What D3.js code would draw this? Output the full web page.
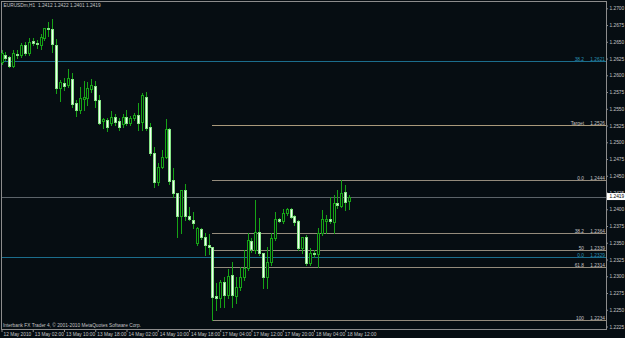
<!DOCTYPE html>
<html>
<head>
<meta charset="utf-8">
<script src="https://cdn.jsdelivr.net/npm/d3@7"></script>
<style>
  html, body { margin: 0; padding: 0; background: #060d12; overflow: hidden; }
  svg { display: block; }
</style>
</head>
<body>
<div id="container"></div>
<script>
const chartTitle = 'EURUSDm,H1  1.2412 1.2422 1.2401 1.2419';
const copyright = 'Interbank FX Trader 4, \u00a9 2001-2010 MetaQuotes Software Corp.';

// hourly bars, 12 May 18:00 .. 18 May 13:00
const open = [
  1.2620, 1.2630, 1.2627, 1.2614, 1.2632, 1.2630, 1.2645, 1.2633, 1.2651, 1.2648,
  1.2645, 1.2656, 1.2671, 1.2669, 1.2645, 1.2581, 1.2588, 1.2585, 1.2594, 1.2559,
  1.2548, 1.2565, 1.2566, 1.2580, 1.2584, 1.2563, 1.2532, 1.2533, 1.2529, 1.2538,
  1.2532, 1.2527, 1.2538, 1.2529, 1.2536, 1.2541, 1.2530, 1.2568, 1.2523, 1.2484,
  1.2441, 1.2463, 1.2478, 1.2520, 1.2443, 1.2424, 1.2390, 1.2429, 1.2390, 1.2384,
  1.2349, 1.2370, 1.2358, 1.2346, 1.2343, 1.2270, 1.2268, 1.2291, 1.2272, 1.2302,
  1.2271, 1.2284, 1.2299, 1.2312, 1.2352, 1.2339, 1.2366, 1.2335, 1.2299, 1.2321,
  1.2357, 1.2385, 1.2382, 1.2394, 1.2400, 1.2390, 1.2382, 1.2342, 1.2358, 1.2320,
  1.2335, 1.2333, 1.2364, 1.2382, 1.2385, 1.2381, 1.2409, 1.2405, 1.2426, 1.2412
];
const high = [
  1.2638, 1.2635, 1.2629, 1.2638, 1.2638, 1.2648, 1.2650, 1.2656, 1.2656, 1.2653,
  1.2662, 1.2671, 1.2680, 1.2684, 1.2654, 1.2593, 1.2596, 1.2609, 1.2603, 1.2563,
  1.2582, 1.2591, 1.2590, 1.2594, 1.2591, 1.2570, 1.2536, 1.2536, 1.2547, 1.2542,
  1.2536, 1.2542, 1.2548, 1.2539, 1.2544, 1.2559, 1.2573, 1.2575, 1.2529, 1.2493,
  1.2469, 1.2488, 1.2535, 1.2521, 1.2462, 1.2425, 1.2429, 1.2438, 1.2403, 1.2396,
  1.2373, 1.2372, 1.2364, 1.2363, 1.2343, 1.2290, 1.2294, 1.2299, 1.2311, 1.2321,
  1.2299, 1.2314, 1.2339, 1.2364, 1.2357, 1.2414, 1.2387, 1.2335, 1.2343, 1.2364,
  1.2396, 1.2387, 1.2400, 1.2402, 1.2402, 1.2391, 1.2384, 1.2358, 1.2361, 1.2342,
  1.2339, 1.2372, 1.2399, 1.2391, 1.2418, 1.2421, 1.2429, 1.2444, 1.2436, 1.2422
];
const low = [
  1.2617, 1.2623, 1.2613, 1.2613, 1.2626, 1.2627, 1.2630, 1.2630, 1.2645, 1.2641,
  1.2639, 1.2653, 1.2659, 1.2635, 1.2574, 1.2562, 1.2578, 1.2582, 1.2553, 1.2539,
  1.2544, 1.2548, 1.2556, 1.2575, 1.2553, 1.2527, 1.2521, 1.2517, 1.2526, 1.2526,
  1.2518, 1.2523, 1.2526, 1.2526, 1.2533, 1.2518, 1.2518, 1.2518, 1.2481, 1.2433,
  1.2436, 1.2462, 1.2476, 1.2438, 1.2418, 1.2358, 1.2364, 1.2384, 1.2384, 1.2372,
  1.2346, 1.2355, 1.2332, 1.2333, 1.2234, 1.2250, 1.2254, 1.2254, 1.2268, 1.2254,
  1.2260, 1.2279, 1.2294, 1.2309, 1.2336, 1.2335, 1.2332, 1.2282, 1.2282, 1.2317,
  1.2354, 1.2381, 1.2379, 1.2391, 1.2387, 1.2376, 1.2339, 1.2335, 1.2317, 1.2317,
  1.2329, 1.2314, 1.2361, 1.2364, 1.2379, 1.2364, 1.2402, 1.2403, 1.2399, 1.2401
];
const close = [
  1.2633, 1.2626, 1.2614, 1.2633, 1.2630, 1.2645, 1.2633, 1.2650, 1.2648, 1.2647,
  1.2657, 1.2671, 1.2669, 1.2647, 1.2581, 1.2590, 1.2584, 1.2596, 1.2557, 1.2548,
  1.2566, 1.2568, 1.2581, 1.2586, 1.2563, 1.2529, 1.2535, 1.2523, 1.2538, 1.2530,
  1.2523, 1.2538, 1.2529, 1.2536, 1.2541, 1.2529, 1.2570, 1.2521, 1.2484, 1.2441,
  1.2463, 1.2478, 1.2520, 1.2442, 1.2424, 1.2390, 1.2429, 1.2390, 1.2385, 1.2379,
  1.2372, 1.2358, 1.2346, 1.2343, 1.2269, 1.2268, 1.2291, 1.2272, 1.2300, 1.2272,
  1.2284, 1.2299, 1.2312, 1.2354, 1.2340, 1.2366, 1.2335, 1.2299, 1.2321, 1.2357,
  1.2385, 1.2382, 1.2394, 1.2400, 1.2388, 1.2381, 1.2342, 1.2358, 1.2320, 1.2335,
  1.2333, 1.2364, 1.2385, 1.2385, 1.2382, 1.2409, 1.2406, 1.2424, 1.2411, 1.2419
];

const timeTicks = [0, 8, 16, 24, 32, 40, 48, 56, 64, 72, 80, 88];
const timeLabels = ['12 May 2010', '13 May 02:00', '13 May 10:00', '13 May 18:00', '14 May 02:00',
  '14 May 10:00', '14 May 18:00', '17 May 04:00', '17 May 12:00', '17 May 20:00',
  '18 May 04:00', '18 May 12:00'];

const priceTicks = [1.2700, 1.2675, 1.2650, 1.2625, 1.2600, 1.2575, 1.2550, 1.2525, 1.2500, 1.2475,
  1.2450, 1.2425, 1.2400, 1.2375, 1.2350, 1.2325, 1.2300, 1.2275, 1.2250, 1.2225];

// fibonacci from the 17 May low to the 18 May high
const fibLevels = ['Target', '0.0', '38.2', '50', '61.8', '100'];
const fibPrices = [1.2526, 1.2444, 1.2364, 1.2339, 1.2314, 1.2234];
const fibStartBar = 54;

// older fibonacci, only two of its levels are in view
const blueLevels = ['38.2', '0.0'];
const bluePrices = [1.2621, 1.2329];

const bid = 1.2419;

// ---------------------------------------------------------------
const W = 625, H = 338;
const plotLeft = 1, plotRight = 606, plotTop = 1, plotBottom = 329;
const bg = '#060d12';
const font = '"Liberation Sans", Arial, sans-serif';
const fs = 4.8;
const textColor = '#c4c4c4';
const frameColor = '#8c8c8c';
const green = '#16a316';
const fibColor = '#948b7c';
const blue = '#1b6d8c';

const svg = d3.select('#container')
    .append('svg')
    .attr('width', W)
    .attr('height', H)
    .style('background', bg);

const y = d3.scaleLinear()
    .domain([1.2225, 1.2700])
    .range([326.5, 8.3]);

const x = d3.scalePoint()
    .domain(d3.range(open.length))
    .range([1.5, 1.5 + (open.length - 1) * 3.906]);

const py = p => Math.round(y(p)) + 0.5;

// frame
svg.append('rect')
    .attr('x', plotLeft + 0.5)
    .attr('y', plotTop + 0.5)
    .attr('width', plotRight - plotLeft)
    .attr('height', plotBottom - plotTop)
    .attr('fill', 'none')
    .attr('stroke', frameColor)
    .attr('stroke-width', 1);

// blue fibo lines, full width
svg.append('g')
    .selectAll('line')
    .data(bluePrices)
    .join('line')
    .attr('x1', plotLeft + 1)
    .attr('x2', plotRight)
    .attr('y1', d => py(d))
    .attr('y2', d => py(d))
    .attr('stroke', blue)
    .attr('stroke-width', 1);

svg.append('g')
    .selectAll('text')
    .data(bluePrices)
    .join('text')
    .attr('x', 584)
    .attr('y', d => py(d) - 1)
    .attr('text-anchor', 'end')
    .attr('font-size', fs)
    .attr('font-family', font)
    .attr('fill', '#2a93b8')
    .text((d, i) => blueLevels[i]);

svg.append('g')
    .selectAll('text')
    .data(bluePrices)
    .join('text')
    .attr('x', 605)
    .attr('y', d => py(d) - 1)
    .attr('text-anchor', 'end')
    .attr('font-size', fs)
    .attr('font-family', font)
    .attr('fill', '#2a93b8')
    .text(d => d.toFixed(4));

// bid line
svg.append('line')
    .attr('x1', plotLeft + 1)
    .attr('x2', plotRight)
    .attr('y1', py(bid))
    .attr('y2', py(bid))
    .attr('stroke', '#5c6369')
    .attr('stroke-width', 1);

// fibo levels from the low bar to the right edge
const fibX = Math.round(x(fibStartBar));
svg.append('g')
    .selectAll('line')
    .data(fibPrices)
    .join('line')
    .attr('x1', fibX)
    .attr('x2', plotRight)
    .attr('y1', d => py(d))
    .attr('y2', d => py(d))
    .attr('stroke', (d, i) => i == 0 ? '#a8987a' : fibColor)
    .attr('stroke-width', 1);

svg.append('g')
    .selectAll('text')
    .data(fibPrices)
    .join('text')
    .attr('x', 584)
    .attr('y', d => py(d) - 1)
    .attr('text-anchor', 'end')
    .attr('font-size', fs)
    .attr('font-family', font)
    .attr('fill', textColor)
    .text((d, i) => fibLevels[i]);

svg.append('g')
    .selectAll('text')
    .data(fibPrices)
    .join('text')
    .attr('x', 605)
    .attr('y', d => py(d) - 1)
    .attr('text-anchor', 'end')
    .attr('font-size', fs)
    .attr('font-family', font)
    .attr('fill', textColor)
    .text(d => d.toFixed(4));

// candles
const bars = d3.range(open.length).map(i => ({ i: i, o: open[i], h: high[i], l: low[i], c: close[i] }));
const cg = svg.append('g').attr('shape-rendering', 'crispEdges');

cg.selectAll('line')
    .data(bars)
    .join('line')
    .attr('x1', d => Math.round(x(d.i)) + 0.5)
    .attr('x2', d => Math.round(x(d.i)) + 0.5)
    .attr('y1', d => Math.round(y(d.h)))
    .attr('y2', d => Math.round(y(d.l)) + 1)
    .attr('stroke', green)
    .attr('stroke-width', 1);

cg.selectAll('rect')
    .data(bars)
    .join('rect')
    .attr('x', d => Math.round(x(d.i)) - 0.5)
    .attr('width', 2)
    .attr('y', d => Math.round(y(Math.max(d.o, d.c))) + 0.5)
    .attr('height', d => Math.max(0.01, Math.round(y(Math.min(d.o, d.c))) - Math.round(y(Math.max(d.o, d.c)))))
    .attr('fill', d => d.c < d.o ? '#f2fff0' : bg)
    .attr('stroke', d => d.c < d.o ? '#86e386' : green)
    .attr('stroke-width', 1);

// price axis
svg.append('g')
    .attr('transform', `translate(${plotRight},0)`)
    .call(d3.axisRight(y).tickValues(priceTicks).tickFormat(d3.format('.4f')).tickSize(2).tickPadding(1.5))
    .attr('font-size', fs)
    .attr('font-family', font)
    .call(g => g.select('.domain').remove())
    .call(g => g.selectAll('line').attr('stroke', frameColor))
    .call(g => g.selectAll('text').attr('fill', textColor));

// time axis
svg.append('g')
    .attr('transform', `translate(0,${plotBottom})`)
    .call(d3.axisBottom(x).tickValues(timeTicks).tickFormat(d => timeLabels[timeTicks.indexOf(d)]).tickSize(3).tickPadding(1))
    .attr('font-size', fs)
    .attr('font-family', font)
    .call(g => g.select('.domain').remove())
    .call(g => g.selectAll('line').attr('stroke', frameColor))
    .call(g => g.selectAll('text').attr('fill', textColor).attr('text-anchor', 'start').attr('x', 1.5));

// current price box
svg.append('rect')
    .attr('x', plotRight + 1)
    .attr('y', y(bid) - 3.5)
    .attr('width', W - plotRight - 1)
    .attr('height', 7)
    .attr('fill', '#ffffff');

svg.append('text')
    .attr('x', plotRight + 3.5)
    .attr('y', y(bid) + 1.8)
    .attr('font-size', fs)
    .attr('font-family', font)
    .attr('fill', '#000')
    .text(bid.toFixed(4));

// title + footer
svg.append('text')
    .attr('x', 3.5)
    .attr('y', 7)
    .attr('font-size', fs)
    .attr('font-family', font)
    .attr('fill', textColor)
    .style('white-space', 'pre')
    .text(chartTitle);

svg.append('text')
    .attr('x', 3)
    .attr('y', 327)
    .attr('font-size', fs)
    .attr('font-family', font)
    .attr('fill', textColor)
    .text(copyright);
</script>
</body>
</html>
